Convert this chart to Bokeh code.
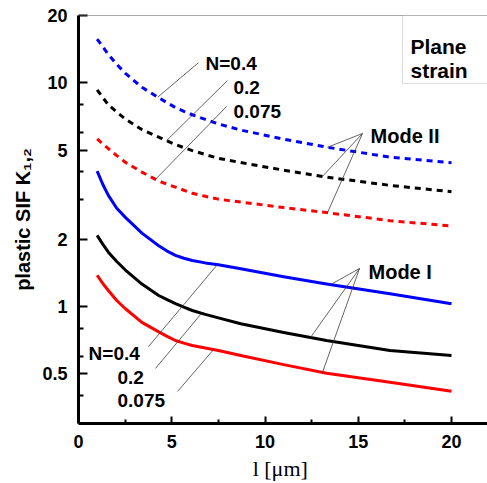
import numpy as np
from bokeh.plotting import figure
from bokeh.models import Label, Span, BoxAnnotation, FixedTicker, CustomJSTickFormatter
from bokeh.embed import file_html
from bokeh.resources import INLINE

# ---- data ----
l_um = [1, 1.3, 1.6, 2.05, 2.5, 3.4, 4.3, 4.75, 5.2, 5.65, 6.1, 6.8, 7.5, 8.7, 11, 13.3, 16.7, 20]

mode1_N04 = [4.03, 3.52, 3.14, 2.75, 2.51, 2.13, 1.87, 1.77, 1.694, 1.644, 1.607, 1.567, 1.538,
             1.475, 1.36, 1.26, 1.14, 1.03]
mode1_N02 = [2.08, 1.90, 1.75, 1.59, 1.46, 1.26, 1.12, 1.073, 1.03, 0.993, 0.96, 0.922, 0.89,
             0.837, 0.765, 0.705, 0.636, 0.604]
mode1_N0075 = [1.38, 1.27, 1.18, 1.064, 0.98, 0.85, 0.77, 0.736, 0.705, 0.686, 0.67, 0.652, 0.636,
               0.604, 0.55, 0.503, 0.459, 0.418]

mode2_N04 = [15.7, 14.5, 13.4, 12.1, 11.05, 9.55, 8.58, 8.15, 7.75, 7.46, 7.2, 6.86, 6.55,
             6.15, 5.6, 5.16, 4.65, 4.39]
mode2_N02 = [9.3, 8.6, 7.98, 7.4, 6.9, 6.18, 5.72, 5.5, 5.3, 5.13, 4.98, 4.78, 4.6,
             4.4, 4.07, 3.79, 3.48, 3.26]
mode2_N0075 = [5.62, 5.33, 5.08, 4.73, 4.42, 3.99, 3.64, 3.52, 3.42, 3.31, 3.21, 3.11, 3.02,
               2.93, 2.77, 2.63, 2.42, 2.29]

x_ticks = [0, 5, 10, 15, 20]
x_minor = [2.5, 7.5, 12.5, 17.5]
y_ticks = [0.5, 1, 2, 5, 10, 20]
y_minor = [0.4, 0.6, 0.8, 3, 4, 6, 8]

BOLD = "Liberation Sans"

p = figure(width=487, height=483, x_range=(0, 21.93), y_range=(0.3, 20),
           y_axis_type="log", output_backend="svg", toolbar_location=None,
           min_border_left=78, min_border_right=0, min_border_top=15,
           min_border_bottom=60)
p.grid.visible = False
p.outline_line_color = None
p.background_fill_color = "white"
p.border_fill_color = "white"

# axes styling
for ax in (p.xaxis, p.yaxis):
    ax.axis_line_width = 3
    ax.axis_line_color = "black"
    ax.major_tick_out = 0
    ax.minor_tick_out = 0
    ax.major_tick_line_width = 2
    ax.minor_tick_line_width = 2
    ax.major_label_text_font = BOLD
    ax.major_label_text_font_style = "bold"
    ax.major_label_text_font_size = "18px"
    ax.major_label_text_color = "black"

p.xaxis.ticker = FixedTicker(ticks=x_ticks, minor_ticks=x_minor)
p.xaxis.major_tick_in = 7
p.xaxis.minor_tick_in = 4
p.xaxis.major_label_standoff = 11
p.xaxis.axis_label = "l  [\u03bcm]"
p.xaxis.axis_label_text_font = "Liberation Serif"
p.xaxis.axis_label_text_font_style = "normal"
p.xaxis.axis_label_text_font_size = "22px"
p.xaxis.axis_label_text_color = "black"
p.xaxis.axis_label_standoff = 5

p.yaxis.ticker = FixedTicker(ticks=y_ticks, minor_ticks=y_minor)
p.yaxis.formatter = CustomJSTickFormatter(code="return String(tick)")
p.yaxis.major_tick_in = 9
p.yaxis.minor_tick_in = 5
p.yaxis.major_label_standoff = 11
p.yaxis.axis_label = "plastic SIF K\u2081,\u2082"
p.yaxis.axis_label_text_font = BOLD
p.yaxis.axis_label_text_font_style = "bold"
p.yaxis.axis_label_text_font_size = "20px"
p.yaxis.axis_label_text_color = "black"
p.yaxis.axis_label_standoff = 5

# top frame line
p.add_layout(Span(location=20, dimension="width", line_color="#555555", line_width=1))

# curves
BLUE, BLACK, RED = "#0000ff", "#000000", "#ff0000"
series = [
    (mode2_N04, BLUE, "6 5"), (mode2_N02, BLACK, "6 5"), (mode2_N0075, RED, "6 5"),
    (mode1_N04, BLUE, "solid"), (mode1_N02, BLACK, "solid"), (mode1_N0075, RED, "solid"),
]
for ys, col, dash in series:
    p.line(l_um, ys, line_color=col, line_width=3, line_dash=dash, line_join="round")


def on_curve(ys, xq):
    return float(10 ** np.interp(xq, l_um, np.log10(ys)))


LEAD = dict(line_color="#3c3c3c", line_width=0.8)

# leader lines (start point, curve, x on curve)
leaders = [
    ((6.43, 12.3), mode2_N04, 4.25),
    ((7.99, 10.25), mode2_N02, 4.72),
    ((7.94, 7.84), mode2_N0075, 4.13),
    ((15.23, 5.94), mode2_N04, 13.35),
    ((15.23, 5.94), mode2_N02, 13.08),
    ((15.23, 5.94), mode2_N0075, 13.35),
    ((15.07, 1.48), mode1_N04, 13.51),
    ((15.07, 1.48), mode1_N02, 12.44),
    ((15.07, 1.48), mode1_N0075, 13.08),
    ((3.75, 0.662), mode1_N04, 7.45),
    ((4.13, 0.529), mode1_N02, 6.6),
    ((5.31, 0.417), mode1_N0075, 7.24),
]
for (x0, y0), ys, xq in leaders:
    p.line([x0, xq], [y0, on_curve(ys, xq)], **LEAD)

# plane strain box
p.add_layout(BoxAnnotation(left=17.37, bottom=9.94, fill_color="white", fill_alpha=1,
                           line_color="#808080", line_width=1))

texts = [
    ("N=0.4", 6.81, 12.2, 19), ("0.2", 8.31, 9.53, 19), ("0.075", 8.31, 7.45, 19),
    ("N=0.4", 0.54, 0.617, 19), ("0.2", 2.09, 0.482, 19), ("0.075", 2.09, 0.380, 19),
    ("Mode II", 15.66, 5.76, 20), ("Mode I", 15.55, 1.42, 20),
    ("Plane", 17.8, 14.5, 21), ("strain", 17.8, 11.36, 21),
]
for t, x, y, fs in texts:
    p.add_layout(Label(x=x, y=y, text=t, text_font=BOLD, text_font_style="bold",
                       text_font_size=f"{fs}px", text_color="black",
                       text_baseline="alphabetic", text_align="left"))

open("out.html", "w").write(file_html(p, INLINE))
